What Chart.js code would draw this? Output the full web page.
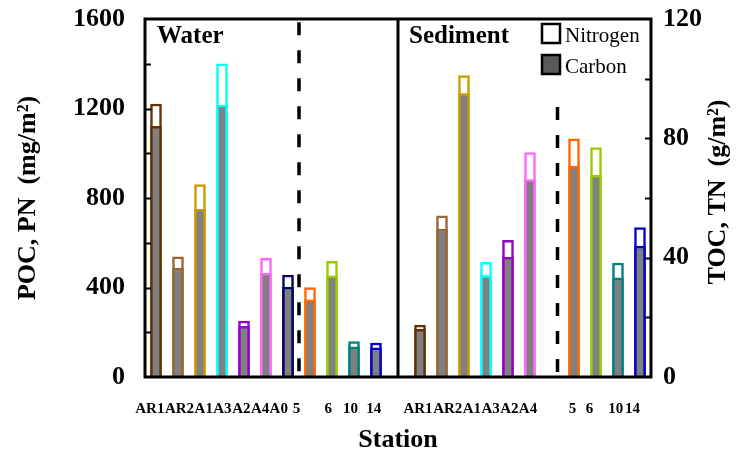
<!DOCTYPE html>
<html>
<head>
<meta charset="utf-8">
<script src="https://cdn.jsdelivr.net/npm/chart.js@4/dist/chart.umd.min.js"></script>
<style>
  html, body { margin: 0; padding: 0; background: #ffffff; }
  canvas { display: block; }
</style>
</head>
<body>
<canvas id="chart" width="737" height="453"></canvas>
<script>
// Water column: particulate organic carbon / nitrogen (mg/m2)
const waterStations = ['AR1', 'AR2', 'A1', 'A3', 'A2', 'A4', 'A0', '5', '6', '10', '14'];
const waterPN  = [1220, 537, 860, 1400, 250, 530, 455, 400, 517, 158, 152];
const waterPOC = [1120, 487, 750, 1215, 226, 465, 402, 345, 452, 135, 130];

// Sediment: total organic carbon / nitrogen (g/m2)
const sedimentStations = ['AR1', 'AR2', 'A1', 'A3', 'A2', 'A4', '5', '6', '10', '14'];
const sedimentTN  = [17.4, 54.0, 101.0, 38.4, 45.8, 75.2, 79.8, 76.9, 38.2, 50.1];
const sedimentTOC = [16.0, 49.6, 95.0, 34.0, 40.2, 66.2, 70.6, 67.6, 33.2, 43.9];
const sedimentInnerCount = 6;   // stations before the dashed separator

// Station label row under the axis (text and position in slot units)
const tickLabelText = ['AR1', 'AR2', 'A1', 'A3', 'A2', 'A4', 'A0', '5', '6', '10', '14',
                       'AR1', 'AR2', 'A1', 'A3', 'A2', 'A4', '5', '6', '10', '14'];
const tickLabelAt = [-0.28, 1.07, 2.17, 3.02, 3.88, 4.73, 5.58, 6.39, 7.83, 8.84, 9.90,
                     11.91, 13.26, 14.36, 15.21, 16.06, 16.91, 18.93, 19.70, 20.90, 21.66];

const stationColors = {
  'AR1': '#663300', 'AR2': '#996633', 'A1': '#CC9900', 'A3': '#00FFFF',
  'A2': '#9900CC', 'A4': '#FF66FF', 'A0': '#000066', '5': '#FF6600',
  '6': '#99CC00', '10': '#008080', '14': '#0000CC'
};

// One category slot per bar, with an empty slot between the two panels
// and another one where the sediment dashed separator sits.
const sedimentInner = sedimentStations.slice(0, sedimentInnerCount);
const sedimentOuter = sedimentStations.slice(sedimentInnerCount);
const categories = [...waterStations, '', ...sedimentInner, '', ...sedimentOuter];
const panelGap = waterStations.length;
const sedimentGap = panelGap + 1 + sedimentInner.length;

function waterSeries(values) {
  return categories.map((c, i) => (i < panelGap ? values[i] : null));
}
function sedimentSeries(values) {
  const out = categories.map(() => null);
  values.forEach((v, j) => {
    const idx = panelGap + 1 + j + (j >= sedimentInnerCount ? 1 : 0);
    out[idx] = v;
  });
  return out;
}
const slotColors = categories.map(c => stationColors[c] || 'rgba(0,0,0,0)');

const serif = 'Liberation Serif, Times New Roman, serif';
const barCommon = {
  grouped: false,
  barThickness: 11,
  borderWidth: 2.5,
  borderColor: slotColors
};

function noEdgePadding(s) {
  s.paddingTop = 0; s.paddingBottom = 0; s.paddingLeft = 0; s.paddingRight = 0;
}

const panelDecor = {
  id: 'panelDecor',
  afterDatasetsDraw(chart) {
    const { ctx, chartArea: a, scales } = chart;
    const { x, y, y2 } = scales;
    ctx.save();

    // dashed separators
    ctx.strokeStyle = '#000';
    ctx.lineWidth = 3.5;
    ctx.setLineDash([13, 15]);
    const wx = x.getPixelForValue(panelGap - 4 - 0.5);
    ctx.beginPath();
    ctx.moveTo(wx, y.getPixelForValue(1585));
    ctx.lineTo(wx, a.bottom);
    ctx.stroke();
    const sx = x.getPixelForValue(sedimentGap + 0.25);
    ctx.beginPath();
    ctx.moveTo(sx, y2.getPixelForValue(90.5));
    ctx.lineTo(sx, a.bottom);
    ctx.stroke();
    ctx.setLineDash([]);

    // inward tick marks
    ctx.lineWidth = 2;
    y.ticks.forEach(t => {
      if (t.value <= y.min || t.value >= y.max) return;
      const py = Math.round(y.getPixelForValue(t.value)) + 0.5;
      ctx.beginPath(); ctx.moveTo(a.left, py); ctx.lineTo(a.left + 6, py); ctx.stroke();
    });
    y2.ticks.forEach(t => {
      if (t.value <= y2.min || t.value >= y2.max) return;
      const py = Math.round(y2.getPixelForValue(t.value)) + 0.5;
      ctx.beginPath(); ctx.moveTo(a.right - 6, py); ctx.lineTo(a.right, py); ctx.stroke();
    });

    // frame and panel divider
    ctx.lineWidth = 3;
    ctx.strokeRect(a.left, a.top, a.right - a.left, a.bottom - a.top);
    const dx = x.getPixelForValue(panelGap);
    ctx.beginPath(); ctx.moveTo(dx, a.top); ctx.lineTo(dx, a.bottom); ctx.stroke();

    // panel titles
    ctx.fillStyle = '#000';
    ctx.font = 'bold 25px ' + serif;
    ctx.textAlign = 'left';
    ctx.textBaseline = 'alphabetic';
    ctx.fillText('Water', a.left + 12, a.top + 24);
    ctx.fillText('Sediment', dx + 11, a.top + 24);

    // legend
    const legendItems = [
      { text: 'Nitrogen', fill: '#ffffff' },
      { text: 'Carbon', fill: '#595959' }
    ];
    ctx.font = '21px ' + serif;
    legendItems.forEach((it, i) => {
      const top = a.top + 5 + i * 31;
      ctx.fillStyle = it.fill;
      ctx.fillRect(a.right - 109, top, 18, 19);
      ctx.strokeStyle = '#000';
      ctx.lineWidth = 2.5;
      ctx.strokeRect(a.right - 109, top, 18, 19);
      ctx.fillStyle = '#000';
      ctx.fillText(it.text, a.right - 86, top + 18);
    });

    // axis titles
    ctx.font = 'bold 26px ' + serif;
    ctx.textAlign = 'center';
    ctx.textBaseline = 'middle';
    const midY = (a.top + a.bottom) / 2;
    ctx.save();
    ctx.translate(a.left - 117, midY);
    ctx.rotate(-Math.PI / 2);
    ctx.fillText('POC, PN  (mg/m\u00B2)', 0, 0);
    ctx.restore();
    ctx.save();
    ctx.translate(a.right + 67, midY - 6);
    ctx.rotate(-Math.PI / 2);
    ctx.fillText('TOC, TN  (g/m\u00B2)', 0, 0);
    ctx.restore();

    ctx.textBaseline = 'alphabetic';
    ctx.fillText('Station', (a.left + a.right) / 2, chart.height - 6);

    ctx.restore();
  }
};

new Chart(document.getElementById('chart'), {
  type: 'bar',
  data: {
    labels: categories,
    datasets: [
      { ...barCommon, label: 'Carbon', data: waterSeries(waterPOC), yAxisID: 'y', backgroundColor: '#808080', order: 0 },
      { ...barCommon, label: 'Nitrogen', data: waterSeries(waterPN), yAxisID: 'y', backgroundColor: '#ffffff', order: 1 },
      { ...barCommon, label: 'Carbon', data: sedimentSeries(sedimentTOC), yAxisID: 'y2', backgroundColor: '#808080', order: 0 },
      { ...barCommon, label: 'Nitrogen', data: sedimentSeries(sedimentTN), yAxisID: 'y2', backgroundColor: '#ffffff', order: 1 }
    ]
  },
  options: {
    responsive: false,
    animation: false,
    devicePixelRatio: 1,
    layout: { padding: { top: 19, left: 0, right: 0, bottom: 0 } },
    plugins: { legend: { display: false }, tooltip: { enabled: false } },
    scales: {
      x: { type: 'category', display: false, offset: true },
      lbl: {
        type: 'linear', axis: 'x', position: 'bottom', bounds: 'data', offset: false,
        min: -0.5, max: categories.length - 0.5,
        grid: { display: false, drawTicks: false, offset: false },
        border: { display: false },
        afterBuildTicks: s => { s.ticks = tickLabelAt.map(v => ({ value: v })); },
        afterFit: s => { s.height = 76; noEdgePadding(s); },
        ticks: {
          autoSkip: false, maxRotation: 0, minRotation: 0, padding: 23, color: '#000',
          font: { family: serif, weight: 'bold', size: 15 },
          callback: (v, i) => tickLabelText[i]
        }
      },
      y: {
        position: 'left', min: 0, max: 1600,
        grid: { display: false, drawTicks: false },
        border: { display: false },
        afterFit: s => { s.width = 145; noEdgePadding(s); },
        ticks: {
          stepSize: 200, autoSkip: false, padding: 20, color: '#000',
          font: { family: serif, weight: 'bold', size: 26 },
          callback: v => (v % 400 === 0 ? String(v) : '')
        }
      },
      y2: {
        position: 'right', min: 0, max: 120,
        grid: { display: false, drawTicks: false },
        border: { display: false },
        afterFit: s => { s.width = 86; noEdgePadding(s); },
        ticks: {
          stepSize: 20, autoSkip: false, padding: 12, color: '#000',
          font: { family: serif, weight: 'bold', size: 26 },
          callback: v => (v % 40 === 0 ? String(v) : '')
        }
      }
    }
  },
  plugins: [panelDecor]
});
</script>
</body>
</html>
